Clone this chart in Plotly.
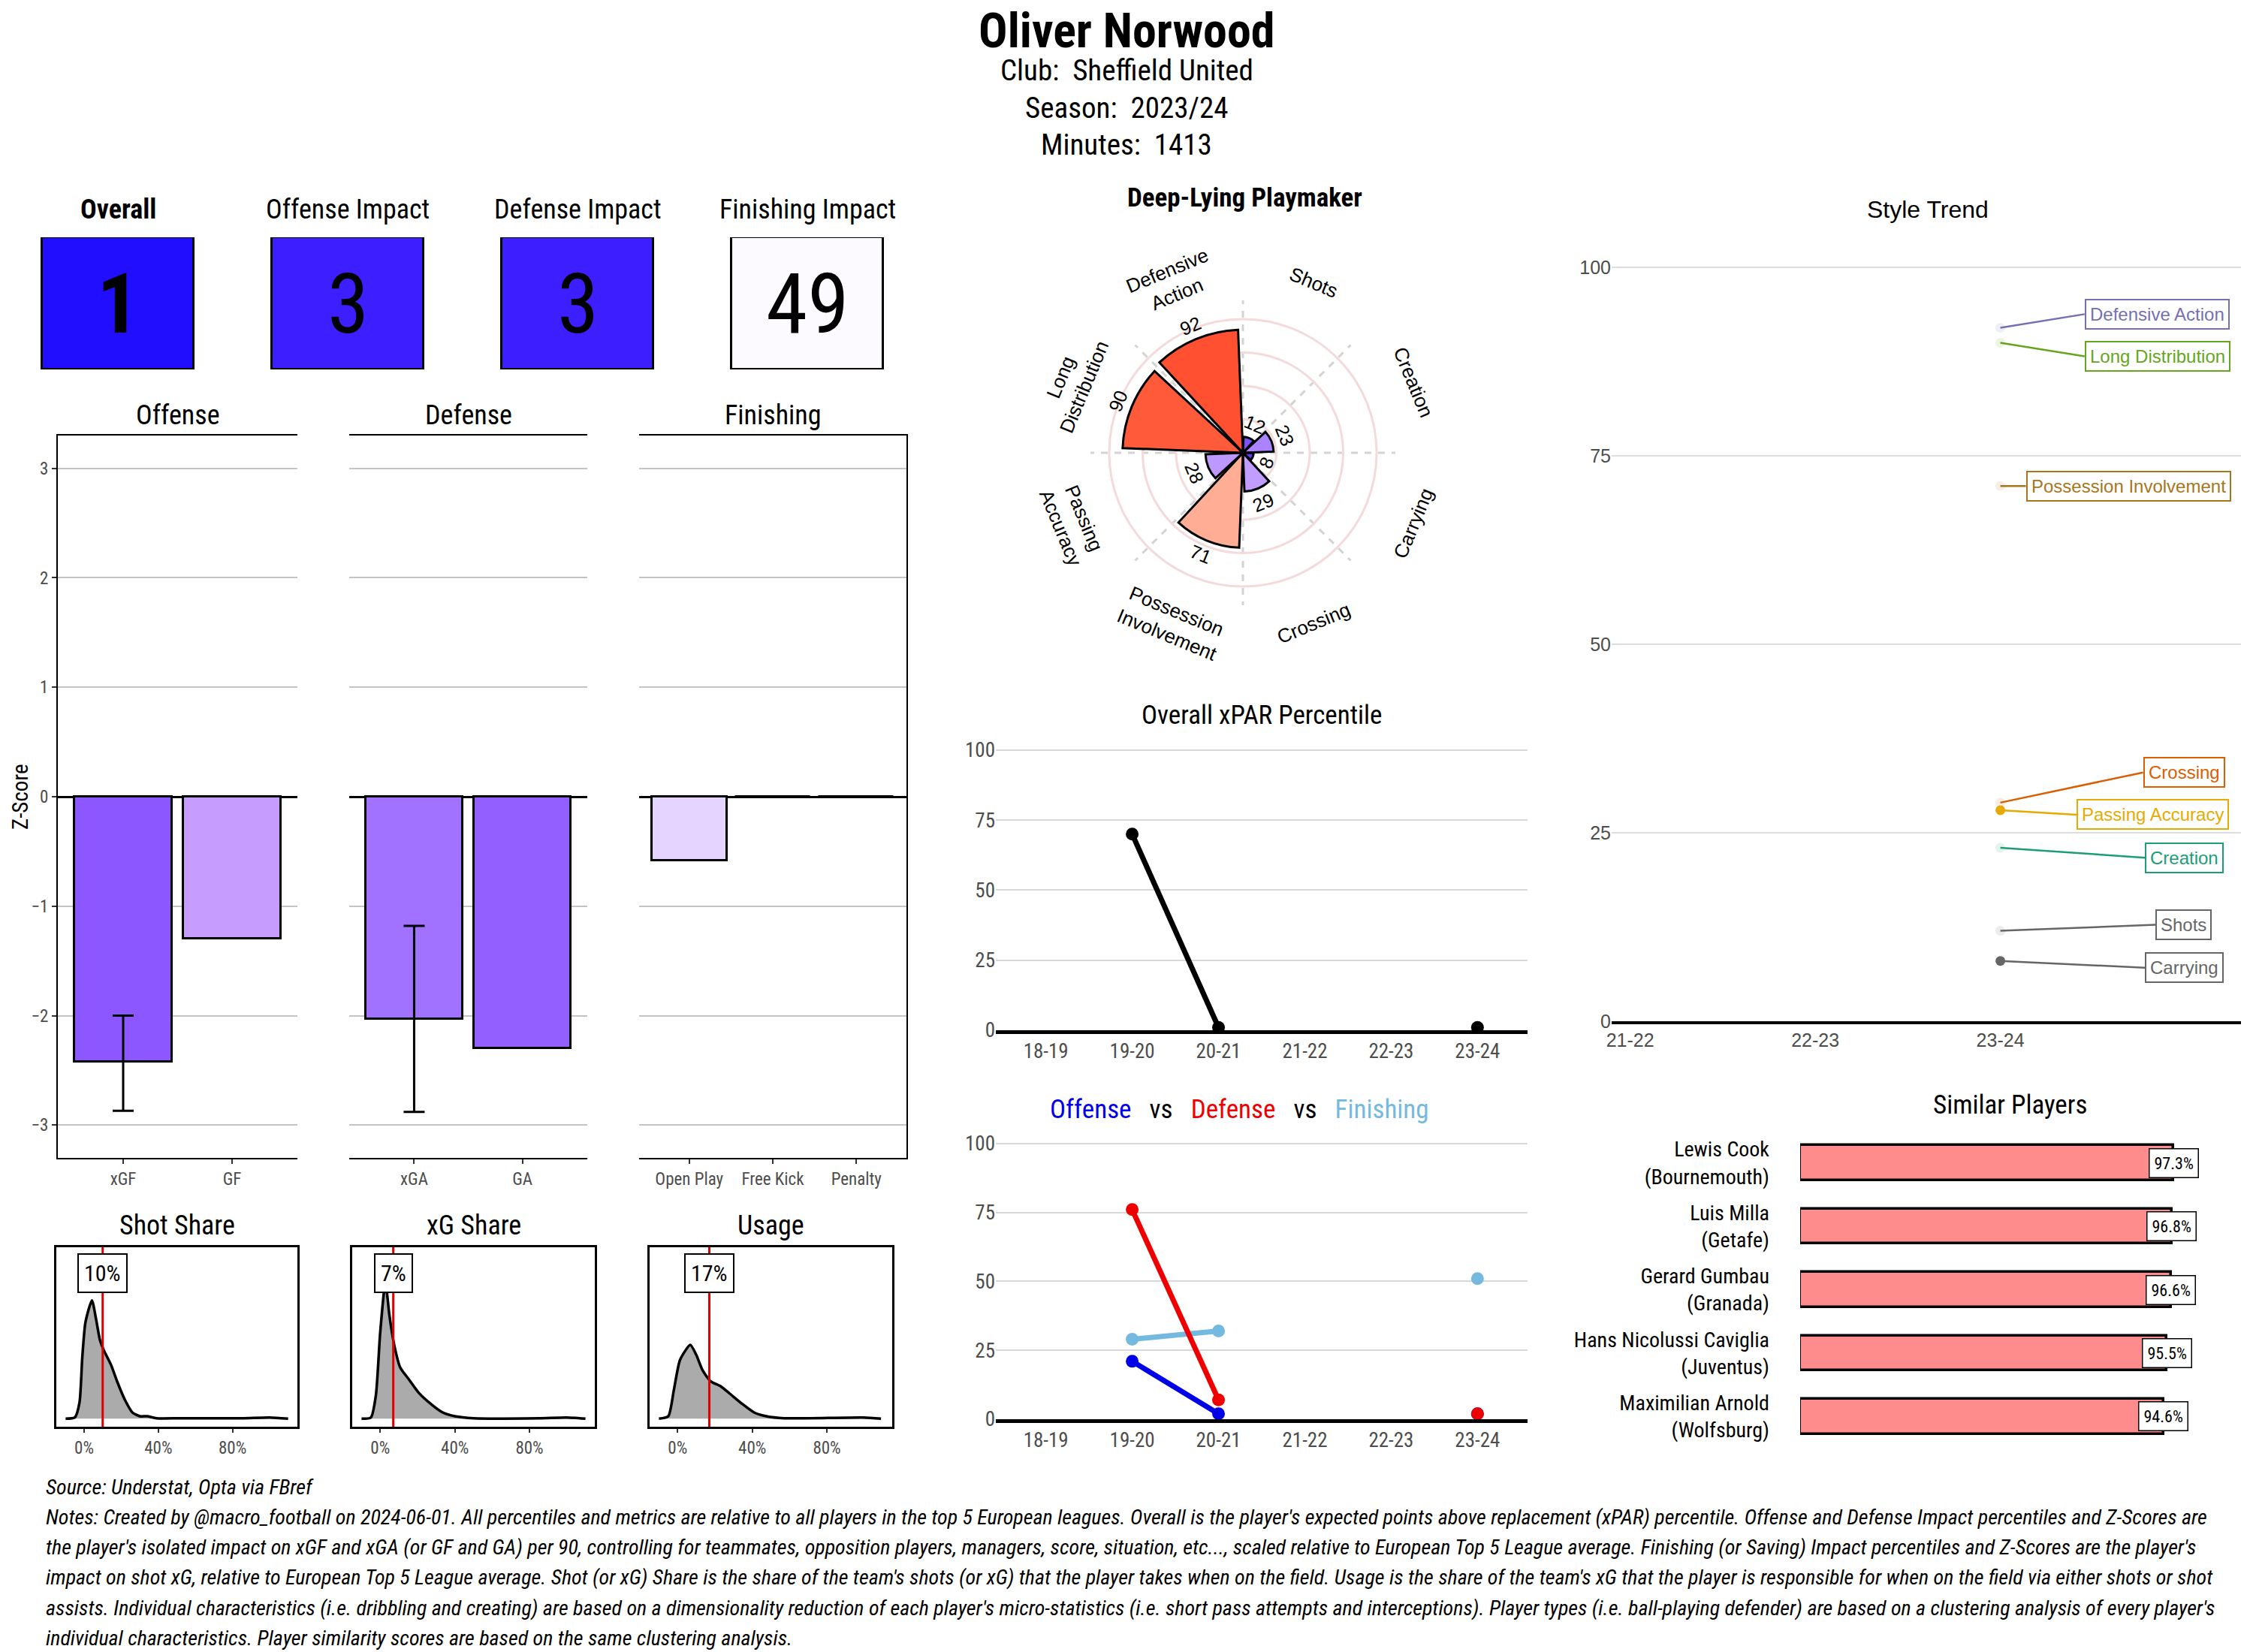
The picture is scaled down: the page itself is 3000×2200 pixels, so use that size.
import math
import plotly.graph_objects as go

# page body margin in the browser is 8px, the figure fills the rest of the 3000x2200 window
PAGE_OFF = 8
W, H = 3000 - PAGE_OFF, 2200 - PAGE_OFF

# ---------------- data ----------------
player_name = "Oliver Norwood"
club = "Sheffield United"
season = "2023/24"
minutes = 1413

tile_labels = ["Overall", "Offense Impact", "Defense Impact", "Finishing Impact"]
tile_values = [1, 3, 3, 49]

off_cats = ["xGF", "GF"]
off_vals = [-2.42, -1.30]
off_err_hi = [-2.00, None]
off_err_lo = [-2.87, None]

def_cats = ["xGA", "GA"]
def_vals = [-2.03, -2.30]
def_err_hi = [-1.18, None]
def_err_lo = [-2.88, None]

fin_cats = ["Open Play", "Free Kick", "Penalty"]
fin_vals = [-0.58, 0.0, 0.0]

radar_cats = ["Shots", "Creation", "Carrying", "Crossing", "Possession<br>Involvement",
              "Passing<br>Accuracy", "Long<br>Distribution", "Defensive<br>Action"]
radar_vals = [12, 23, 8, 29, 71, 28, 90, 92]

share_titles = ["Shot Share", "xG Share", "Usage"]
share_values = [10, 7, 17]
shot_share_x = [-10, -5, -2.5, -1, 0.7, 4.2, 6.5, 8.5, 10.5, 14.5, 18, 22, 26, 30, 34, 39, 52, 85, 100, 110]
shot_share_y = [0, 5, 65, 245, 385, 473, 395, 315, 275, 215, 145, 75, 25, 10, 10, 2, 2, 2, 5, 0]
xg_share_x = [-10, -5, -2.3, 0, 2.8, 4.9, 7.5, 10.7, 15.6, 20.5, 27, 33.5, 40, 50, 85, 100, 110]
xg_share_y = [0, 5, 95, 345, 545, 415, 295, 205, 155, 105, 60, 25, 10, 2, 2, 5, 0]
usage_x = [-10, -5, -2, 1.3, 6.8, 10, 13.3, 17.6, 23, 28, 34.5, 41, 47.5, 57, 99.5, 109]
usage_y = [0, 10, 115, 235, 295, 255, 195, 150, 130, 100, 60, 25, 10, 2, 5, 0]

seasons = ["18-19", "19-20", "20-21", "21-22", "22-23", "23-24"]
overall_pct = [None, 70, 1, None, None, 1]
offense_pct = [None, 21, 2, None, None, 2]
defense_pct = [None, 76, 7, None, None, 2]
finishing_pct = [None, 29, 32, None, None, 51]

trend_seasons = ["21-22", "22-23", "23-24"]
trend_cats = ["Defensive Action", "Long Distribution", "Possession Involvement", "Crossing",
              "Passing Accuracy", "Creation", "Shots", "Carrying"]
trend_vals = {
    "Defensive Action": [None, None, 92],
    "Long Distribution": [None, None, 90],
    "Possession Involvement": [None, None, 71],
    "Crossing": [None, None, 29],
    "Passing Accuracy": [None, None, 28],
    "Creation": [None, None, 23],
    "Shots": [None, None, 12],
    "Carrying": [None, None, 8],
}

sim_names = ["Lewis Cook<br>(Bournemouth)", "Luis Milla<br>(Getafe)", "Gerard Gumbau<br>(Granada)",
             "Hans Nicolussi Caviglia<br>(Juventus)", "Maximilian Arnold<br>(Wolfsburg)"]
sim_vals = [97.3, 96.8, 96.6, 95.5, 94.6]

notes_lines = [
    "Source: Understat, Opta via FBref",
    "Notes: Created by @macro_football on 2024-06-01. All percentiles and metrics are relative to all players in the top 5 European leagues. Overall is the player's expected points above replacement (xPAR) percentile. Offense and Defense Impact percentiles and Z-Scores are",
    "the player's isolated impact on xGF and xGA (or GF and GA) per 90, controlling for teammates, opposition players, managers, score, situation, etc..., scaled relative to European Top 5 League average. Finishing (or Saving) Impact percentiles and Z-Scores are the player's",
    "impact on shot xG, relative to European Top 5 League average. Shot (or xG) Share is the share of the team's shots (or xG) that the player takes when on the field. Usage is the share of the team's xG that the player is responsible for when on the field via either shots or shot",
    "assists. Individual characteristics (i.e. dribbling and creating) are based on a dimensionality reduction of each player's micro-statistics (i.e. short pass attempts and interceptions). Player types (i.e. ball-playing defender) are based on a clustering analysis of every player's",
    "individual characteristics. Player similarity scores are based on the same clustering analysis.",
]

# ---------------- helpers ----------------
COND = "Roboto Condensed, Liberation Sans Narrow, Arial Narrow, Roboto, sans-serif"
ARIAL = "Liberation Sans, Arial, Helvetica, sans-serif"
TICK = "#4D4D4D"


def X(px):
    return (px - PAGE_OFF) / W


def Y(py):
    return 1 - (py - PAGE_OFF) / H


def dom_x(a, b):
    return [max(0.0, X(a)), min(1.0, X(b))]


def dom_y(top, bottom):
    return [max(0.0, Y(bottom)), min(1.0, Y(top))]


def _lin(c):
    c = c / 255
    return c / 12.92 if c <= 0.04045 else ((c + 0.055) / 1.055) ** 2.4


def _delin(c):
    c = max(0.0, min(1.0, c))
    c = 12.92 * c if c <= 0.0031308 else 1.055 * c ** (1 / 2.4) - 0.055
    return max(0, min(255, round(c * 255)))


def hex_to_lab(h):
    r, g, b = [_lin(int(h[i:i + 2], 16)) for i in (1, 3, 5)]
    Xv = (0.4124564 * r + 0.3575761 * g + 0.1804375 * b) / 0.95047
    Yv = 0.2126729 * r + 0.7151522 * g + 0.0721750 * b
    Zv = (0.0193339 * r + 0.1191920 * g + 0.9503041 * b) / 1.08883
    f = lambda t: t ** (1 / 3) if t > 0.008856 else 7.787 * t + 16 / 116
    fx, fy, fz = f(Xv), f(Yv), f(Zv)
    return (116 * fy - 16, 500 * (fx - fy), 200 * (fy - fz))


def lab_to_hex(L, a, b):
    fy = (L + 16) / 116
    fx = fy + a / 500
    fz = fy - b / 200
    finv = lambda t: t ** 3 if t ** 3 > 0.008856 else (t - 16 / 116) / 7.787
    Xv, Yv, Zv = finv(fx) * 0.95047, finv(fy), finv(fz) * 1.08883
    r = 3.2404542 * Xv - 1.5371385 * Yv - 0.4985314 * Zv
    g = -0.9692660 * Xv + 1.8760108 * Yv + 0.0415560 * Zv
    bb = 0.0556434 * Xv - 0.2040259 * Yv + 1.0572252 * Zv
    return "#%02X%02X%02X" % tuple(_delin(v) for v in (r, g, bb))


def gradient2(v, low="#0000FF", mid="#FFFFFF", high="#FF0000", midpoint=50, lo=0, hi=100):
    if v < midpoint:
        t, c1 = (midpoint - v) / (midpoint - lo), low
    else:
        t, c1 = (v - midpoint) / (hi - midpoint), high
    A, B = hex_to_lab(mid), hex_to_lab(c1)
    return lab_to_hex(*[A[i] + t * (B[i] - A[i]) for i in range(3)])


fig = go.Figure()
annotations = []
shapes = []
layout = {}


def ann(**kw):
    kw.setdefault("xanchor", "center")
    kw.setdefault("yanchor", "middle")
    kw.setdefault("showarrow", False)
    kw.setdefault("xref", "paper")
    kw.setdefault("yref", "paper")
    annotations.append(kw)


def set_axes(n, xd, yd):
    xid = "x" + n
    yid = "y" + n
    xd.setdefault("anchor", yid)
    yd.setdefault("anchor", xid)
    xd.setdefault("automargin", False)
    yd.setdefault("automargin", False)
    layout["xaxis" + n] = xd
    layout["yaxis" + n] = yd


# ---------------- header ----------------
ann(x=X(1500), y=Y(41), text="<b>%s</b>" % player_name, font=dict(family=COND, size=64, color="black"))
for i, line in enumerate(["Club:  %s" % club, "Season:  %s" % season, "Minutes:  %d" % minutes]):
    ann(x=X(1500), y=Y(94 + 49.5 * i), text=line, font=dict(family=COND, size=39, color="black"))

# ---------------- tiles ----------------
tile_x = list(range(len(tile_values)))
fig.add_trace(go.Bar(x=tile_x, y=[1] * len(tile_values), width=0.663,
                     marker=dict(color=[gradient2(v) for v in tile_values], line=dict(color="black", width=3)),
                     xaxis="x11", yaxis="y11", hoverinfo="skip"))
set_axes("11", dict(domain=dom_x(8, 1228), range=[-0.487, 3.5], visible=False, fixedrange=True),
         dict(domain=dom_y(316, 492), range=[0, 1], visible=False, fixedrange=True))
for i, (lab, v) in enumerate(zip(tile_labels, tile_values)):
    txt = "<b>%s</b>" % lab if i == 0 else lab
    ann(x=i, y=Y(279), xref="x11", text=txt, font=dict(family=COND, size=36, color="black"))
    num = "<b>%d</b>" % v if i == 0 else "%d" % v
    ann(x=i, y=0.5, xref="x11", yref="y11", text=num, font=dict(family=COND, size=112, color="black"))

# ---------------- z-score panels ----------------
zpanels = [
    ("x", "y", off_cats, off_vals, off_err_hi, off_err_lo, ["#8C57FF", "#C69DFF"], (77, 396), "Offense"),
    ("x2", "y2", def_cats, def_vals, def_err_hi, def_err_lo, ["#A171FF", "#935FFF"], (465, 782), "Defense"),
    ("x3", "y3", fin_cats, fin_vals, [None] * 3, [None] * 3, ["#E4D4FF", "#FFFFFF", "#FFFFFF"], (851, 1207), "Finishing"),
]
for k, (xa, ya, cats, vals, ehi, elo, cols, (l, r), title) in enumerate(zpanels):
    pos = list(range(len(cats)))
    fig.add_trace(go.Bar(x=pos, y=vals, width=0.9, xaxis=xa, yaxis=ya,
                         marker=dict(color=cols, line=dict(color="black", width=3)), hoverinfo="skip"))
    for p, v, hi, lo in zip(pos, vals, ehi, elo):
        if hi is None:
            continue
        fig.add_trace(go.Scatter(x=[p], y=[v], mode="markers", marker=dict(opacity=0), xaxis=xa, yaxis=ya,
                                 error_y=dict(type="data", symmetric=False, array=[hi - v], arrayminus=[v - lo],
                                              color="black", thickness=3, width=14), hoverinfo="skip"))
    axn = "" if k == 0 else str(k + 1)
    xd = dict(domain=dom_x(l, r), range=[-0.6, len(cats) - 0.4], tickvals=pos, ticktext=cats,
              showline=True, mirror=True, linecolor="black", linewidth=2, ticks="outside",
              ticklen=6, tickcolor="#333333", tickwidth=2, showgrid=False, zeroline=False,
              tickfont=dict(family=COND, size=23, color=TICK))
    ydict = dict(domain=dom_y(580, 1542), range=[-3.3, 3.3], tickvals=[-3, -2, -1, 0, 1, 2, 3],
                 gridcolor="#C4C4C4", gridwidth=1.5, zeroline=True, zerolinecolor="black", zerolinewidth=3,
                 showticklabels=(k == 0), tickfont=dict(family=COND, size=23, color=TICK))
    if k == 0:
        ydict.update(showline=True, linecolor="black", linewidth=2, ticks="outside", ticklen=6,
                     tickcolor="#333333", tickwidth=2)
    elif k == 2:
        ydict.update(showline=True, linecolor="black", linewidth=2, side="right", ticks="")
    else:
        ydict.update(showline=False, ticks="")
    set_axes(axn, xd, ydict)
    ann(x=X((l + r) / 2), y=Y(553), text=title, font=dict(family=COND, size=36, color="black"))
ann(x=X(27), y=Y(1061), text="Z-Score", textangle=-90, font=dict(family=COND, size=29, color="black"))

# ---------------- density panels ----------------
dens = [(shot_share_x, shot_share_y), (xg_share_x, xg_share_y), (usage_x, usage_y)]
dens_px = [(75, 396), (469, 792), (865, 1188)]
for k, ((dxv, dyv), (l, r), title, val) in enumerate(zip(dens, dens_px, share_titles, share_values)):
    n = str(4 + k)
    fig.add_trace(go.Scatter(x=dxv, y=dyv, mode="lines", line=dict(color="black", width=3.5, shape="spline",
                                                                     smoothing=0.6),
                             fill="tozeroy", fillcolor="#ABABAB", xaxis="x" + n, yaxis="y" + n,
                             hoverinfo="skip"))
    set_axes(n, dict(domain=dom_x(l, r), range=[-15, 115], tickvals=[0, 40, 80],
                     ticktext=["0%", "40%", "80%"], ticks="outside", ticklen=5, tickwidth=2,
                     tickcolor="#333333", showline=True, mirror=True, linecolor="black", linewidth=3,
                     showgrid=False, zeroline=False, tickfont=dict(family=COND, size=23, color=TICK)),
             dict(domain=dom_y(1661, 1900), range=[-32, 685], showticklabels=False, ticks="",
                  showline=True, mirror=True, linecolor="black", linewidth=3, showgrid=False,
                  zeroline=False))
    shapes.append(dict(type="line", xref="x" + n, yref="y" + n + " domain", x0=val, x1=val, y0=0, y1=1,
                       line=dict(color="#E00000", width=3), layer="above"))
    ann(x=val, y=582, xref="x" + n, yref="y" + n, text="%d%%" % val,
        bgcolor="white", bordercolor="black", borderwidth=2, borderpad=7,
        font=dict(family=COND, size=30, color="black"))
    ann(x=X((l + r) / 2), y=Y(1632), text=title, font=dict(family=COND, size=36, color="black"))

# ---------------- radar ----------------
cx, cy, R_px, r_max = 1655, 603, 203, 114
ppu = R_px / r_max
theta = [22.5 + 45 * i for i in range(len(radar_vals))]
fig.add_trace(go.Barpolar(r=radar_vals, theta=theta, width=[40.5] * len(radar_vals),
                          marker=dict(color=[gradient2(v) for v in radar_vals], line=dict(color="black", width=3)),
                          subplot="polar", hoverinfo="skip"))
layout["polar"] = dict(
    domain=dict(x=dom_x(cx - R_px, cx + R_px), y=dom_y(cy - R_px, cy + R_px)),
    bgcolor="white",
    radialaxis=dict(range=[0, r_max], tickvals=[25, 50, 75, 100], showticklabels=False, ticks="",
                    gridcolor="#F4DADA", gridwidth=2.5, showline=False),
    angularaxis=dict(direction="clockwise", rotation=90, tickvals=[0, 45, 90, 135, 180, 225, 270, 315],
                     showticklabels=False, ticks="", gridcolor="#D3D3D3", gridwidth=2.5, griddash="dash",
                     showline=False),
)


def polar_paper(rv, th):
    t = math.radians(th)
    return X(cx + rv * ppu * math.sin(t)), Y(cy - rv * ppu * math.cos(t))


def tangent_angle(th):
    if th <= 90:
        return th
    if th < 270:
        return th - 180
    return th - 360


for cat, v, th in zip(radar_cats, radar_vals, theta):
    px_, py_ = polar_paper(v + 11, th)
    ann(x=px_, y=py_, text=str(v), textangle=tangent_angle(th), font=dict(family=ARIAL, size=25, color="black"))
    px_, py_ = polar_paper(138, th)
    ann(x=px_, y=py_, text=cat, textangle=tangent_angle(th), font=dict(family=ARIAL, size=26, color="black"))
ann(x=X(1657), y=Y(264), text="<b>Deep-Lying Playmaker</b>", font=dict(family=COND, size=35, color="black"))

# ---------------- overall xPAR percentile ----------------
spos = list(range(len(seasons)))
fig.add_trace(go.Scatter(x=spos, y=overall_pct, mode="lines+markers", connectgaps=False,
                         line=dict(color="black", width=7), marker=dict(color="black", size=17),
                         xaxis="x7", yaxis="y7", cliponaxis=False, hoverinfo="skip"))
for n, (top, bot) in (("7", (984, 1372)), ("8", (1508, 1890))):
    set_axes(n, dict(domain=dom_x(1326, 2034), range=[-0.58, 5.58], tickvals=spos, ticktext=seasons,
                     showgrid=False, zeroline=False, showline=True, linecolor="black", linewidth=5,
                     ticks="", tickfont=dict(family=COND, size=27, color=TICK)),
             dict(domain=dom_y(top, bot), range=[0, 104], tickvals=[0, 25, 50, 75, 100],
                  gridcolor="#D9D9D9", gridwidth=1.5, zeroline=False, showline=False, ticks="",
                  tickfont=dict(family=COND, size=27, color=TICK)))
ann(x=X(1680), y=Y(953), text="Overall xPAR Percentile", font=dict(family=COND, size=35, color="black"))

# ---------------- offense vs defense vs finishing ----------------
for vals, col in ((finishing_pct, "#74B9DF"), (offense_pct, "#0000E6"), (defense_pct, "#EE0000")):
    fig.add_trace(go.Scatter(x=spos, y=vals, mode="lines+markers", connectgaps=False,
                             line=dict(color=col, width=7), marker=dict(color=col, size=17),
                             xaxis="x8", yaxis="y8", cliponaxis=False, hoverinfo="skip"))
ann(x=X(1651), y=Y(1477),
    text="<span style='color:#0000EE'>Offense</span>   vs   "
         "<span style='color:#EE0000'>Defense</span>   vs   "
         "<span style='color:#74B9DF'>Finishing</span>",
    font=dict(family=COND, size=35, color="black"))

# ---------------- style trend ----------------
trend_colors = ["#7570B3", "#66A61E", "#A6761D", "#D95F02", "#E6AB02", "#1B9E77", "#666666", "#666666"]
trend_point_opacity = [0.12, 0.12, 0.12, 0.12, 1, 0.12, 0.12, 1]
label_x_left = [2.455, 2.455, 2.138, 2.771, 2.413, 2.781, 2.838, 2.781]
label_y = [93.8, 88.2, 71.0, 33.0, 27.4, 21.7, 12.8, 7.1]
tpos = list(range(len(trend_seasons)))
for cat, col, op, lx, ly in zip(trend_cats, trend_colors, trend_point_opacity, label_x_left, label_y):
    vals = trend_vals[cat]
    last = vals[-1]
    fig.add_trace(go.Scatter(x=[tpos[-1], lx], y=[last, ly], mode="lines", line=dict(color=col, width=2.5),
                             xaxis="x9", yaxis="y9", hoverinfo="skip"))
    fig.add_trace(go.Scatter(x=tpos, y=vals, mode="lines+markers", line=dict(color=col, width=2.5),
                             marker=dict(color=col, size=13, opacity=op), xaxis="x9", yaxis="y9",
                             hoverinfo="skip"))
    ann(x=lx, y=ly, xref="x9", yref="y9", xanchor="left", text=cat,
        bgcolor="white", bordercolor=col, borderwidth=2, borderpad=5,
        font=dict(family=ARIAL, size=24, color=col))
set_axes("9", dict(domain=dom_x(2146, 2984), range=[-0.1, 3.3], tickvals=tpos, ticktext=trend_seasons,
                   showgrid=False, zeroline=False, showline=True, linecolor="black", linewidth=4, ticks="",
                   tickfont=dict(family=ARIAL, size=25, color=TICK)),
         dict(domain=dom_y(326, 1360), range=[0, 103], tickvals=[0, 25, 50, 75, 100],
              gridcolor="#DDDDDD", gridwidth=1.5, zeroline=False, showline=False, ticks="",
              tickfont=dict(family=ARIAL, size=25, color=TICK)))
ann(x=X(2567), y=Y(279), text="Style Trend", font=dict(family=ARIAL, size=32, color="black"))

# ---------------- similar players ----------------
ppos = list(range(len(sim_vals)))
fig.add_trace(go.Bar(x=sim_vals, y=ppos, orientation="h", width=0.55,
                     marker=dict(color="#FF8C8C", line=dict(color="black", width=3.5)),
                     xaxis="x10", yaxis="y10", hoverinfo="skip"))
for p, v in zip(ppos, sim_vals):
    ann(x=v, y=p, xref="x10", yref="y10", text="%.1f%%" % v,
        bgcolor="white", bordercolor="black", borderwidth=1.5, borderpad=6,
        font=dict(family=COND, size=22, color="black"))
set_axes("10", dict(domain=dom_x(2397, 2990), range=[0, 116], visible=False),
         dict(domain=dom_y(1498, 1937), range=[4.6, -0.6], tickvals=ppos, ticktext=sim_names,
              showgrid=False, zeroline=False, showline=False, ticks="", ticklabelstandoff=40,
              tickfont=dict(family=COND, size=28, color="black")))
ann(x=X(2676), y=Y(1471), text="Similar Players", font=dict(family=COND, size=35, color="black"))

# ---------------- notes ----------------
note_y = [1980, 2020, 2060, 2100, 2141, 2181]
for line, py in zip(notes_lines, note_y):
    ann(x=X(59), y=Y(py), xanchor="left", text="<i>%s</i>" % line, font=dict(family=COND, size=28, color="black"))

fig.update_layout(width=W, height=H, margin=dict(l=0, r=0, t=0, b=0, autoexpand=False), paper_bgcolor="white",
                  plot_bgcolor="white", showlegend=False, annotations=annotations, shapes=shapes,
                  bargap=0, **layout)
fig.write_html("out.html")
